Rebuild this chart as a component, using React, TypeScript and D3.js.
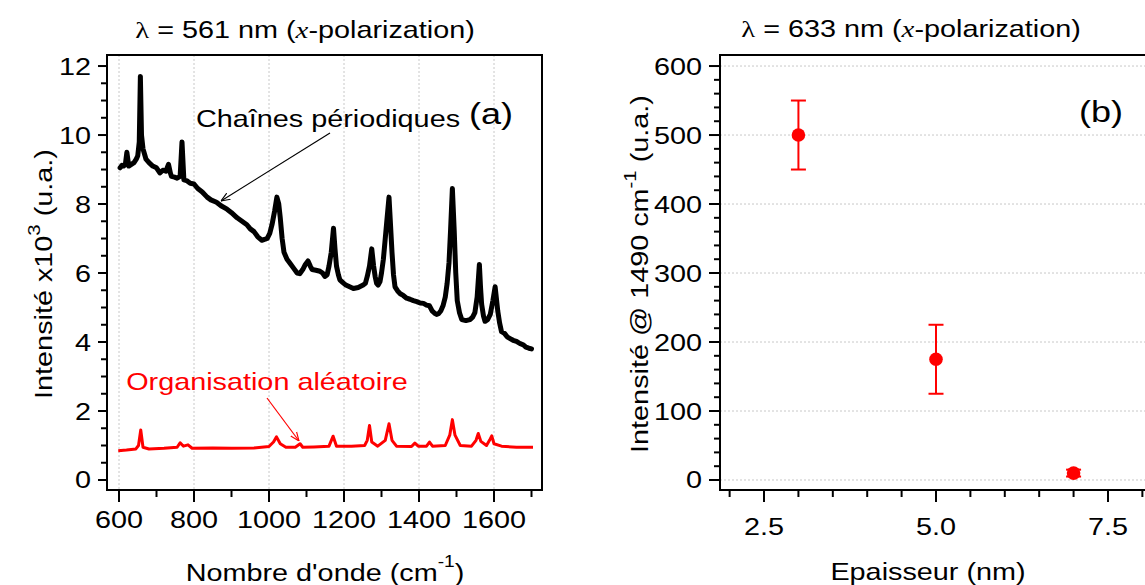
import React from "react";
import * as d3 from "d3";

// ---------- DATA ----------
// Panel (a): Raman spectra (wavenumber cm^-1, intensity x10^3)
const periodicWave = [603, 608, 612, 617, 621, 626, 633, 640, 646, 650, 654, 657, 660, 664, 668, 672, 680, 690, 700, 709, 717, 725, 732, 737, 740, 748, 755, 763, 768, 773, 780, 790, 800, 810, 822, 835, 845, 860, 872, 888, 900, 915, 928, 941, 950, 960, 970, 981, 990, 995, 1002, 1008, 1015, 1021, 1026, 1030, 1035, 1040, 1048, 1055, 1065, 1075, 1082, 1090, 1097, 1104, 1110, 1115, 1125, 1136, 1143, 1149, 1155, 1160, 1166, 1172, 1176, 1180, 1185, 1189, 1197, 1205, 1215, 1225, 1238, 1251, 1257, 1262, 1268, 1274, 1279, 1283, 1287, 1291, 1296, 1300, 1305, 1310, 1315, 1320, 1324, 1328, 1332, 1336, 1343, 1350, 1358, 1367, 1376, 1385, 1394, 1403, 1412, 1420, 1428, 1435, 1441, 1447, 1452, 1458, 1464, 1470, 1475, 1480, 1484, 1489, 1494, 1498, 1502, 1508, 1514, 1525, 1536, 1543, 1549, 1555, 1561, 1564, 1567, 1572, 1576, 1583, 1590, 1597, 1603, 1607, 1610, 1615, 1620, 1628, 1635, 1643, 1651, 1660, 1670, 1678, 1685, 1693, 1700];
const periodicIntensity = [9.05, 9.12, 9.1, 9.15, 9.5, 9.1, 9.15, 9.2, 9.3, 9.4, 9.8, 11.7, 10.0, 9.6, 9.45, 9.3, 9.2, 9.1, 9.05, 8.9, 8.98, 8.95, 9.15, 8.9, 8.8, 8.78, 8.75, 8.8, 9.8, 8.7, 8.68, 8.6, 8.58, 8.45, 8.35, 8.2, 8.12, 8.05, 7.95, 7.85, 7.75, 7.6, 7.5, 7.4, 7.28, 7.2, 7.05, 6.95, 6.98, 7.0, 7.15, 7.4, 7.8, 8.2, 8.0, 7.6, 7.0, 6.6, 6.4, 6.3, 6.15, 6.0, 5.98, 6.1, 6.25, 6.35, 6.2, 6.1, 6.08, 6.05, 6.0, 5.9, 5.95, 6.2, 6.6, 7.3, 6.7, 6.2, 5.95, 5.8, 5.72, 5.65, 5.6, 5.55, 5.58, 5.65, 5.7, 5.9, 6.2, 6.7, 6.2, 5.9, 5.7, 5.65, 5.75, 6.0, 6.4, 7.0, 7.6, 8.2, 7.4, 6.6, 5.95, 5.6, 5.48, 5.4, 5.35, 5.27, 5.24, 5.2, 5.17, 5.13, 5.12, 5.07, 5.05, 4.9, 4.84, 4.8, 4.82, 4.9, 5.05, 5.3, 5.7, 6.3, 7.2, 8.45, 7.2, 6.0, 5.2, 4.85, 4.65, 4.62, 4.65, 4.72, 4.85, 5.3, 6.25, 5.6, 5.1, 4.75, 4.6, 4.65, 4.8, 5.2, 5.6, 5.2, 4.9, 4.55, 4.3, 4.25, 4.15, 4.1, 4.05, 4.02, 3.95, 3.92, 3.85, 3.82, 3.8];

const randomWave = [598, 620, 645, 652, 658, 664, 680, 720, 755, 763, 772, 784, 795, 850, 900, 960, 1000, 1012, 1020, 1030, 1045, 1070, 1083, 1090, 1120, 1160, 1171, 1180, 1220, 1255, 1262, 1268, 1274, 1290, 1310, 1320, 1328, 1340, 1380, 1389, 1398, 1420, 1428, 1436, 1470, 1482, 1489, 1496, 1510, 1540, 1552, 1558, 1565, 1580, 1588, 1594, 1600, 1620, 1660, 1704];
const randomIntensity = [0.85, 0.87, 0.9, 1.0, 1.45, 0.95, 0.9, 0.92, 0.95, 1.08, 0.98, 1.02, 0.92, 0.93, 0.92, 0.93, 0.97, 1.1, 1.25, 1.05, 0.95, 0.95, 1.05, 0.95, 0.96, 0.98, 1.27, 0.98, 0.98, 1.0, 1.15, 1.58, 1.1, 0.98, 1.15, 1.63, 1.15, 0.98, 0.97, 1.07, 0.98, 0.98, 1.1, 0.98, 1.0, 1.3, 1.75, 1.3, 1.0, 0.98, 1.15, 1.35, 1.12, 1.0, 1.15, 1.28, 1.05, 0.98, 0.95, 0.95];

const xTicksA = [600, 800, 1000, 1200, 1400, 1600];
const yTicksA = [0, 2, 4, 6, 8, 10, 12];

// Panel (b): intensity at 1490 cm^-1 vs thickness
const thickness = [3, 5, 7];
const intensity1490 = [500, 175, 10];
const errors1490 = [50, 50, 5];

const xTicksB = [2.5, 5.0, 7.5];
const yTicksB = [0, 100, 200, 300, 400, 500, 600];

// ---------- LAYOUT ----------
const W = 1145;
const H = 585;
const FONT = "'Liberation Sans', Arial, Helvetica, sans-serif";
const SERIF = "'Liberation Serif', 'Times New Roman', serif";
const SX = 1.2;

const xA = d3.scaleLinear().domain([568, 1728]).range([107, 542]);
const yA = d3.scaleLinear().domain([-0.29, 12.32]).range([490, 55]);
const xB = d3.scaleLinear().domain([1.86, 8.14]).range([720, 1152]);
const yB = d3.scaleLinear().domain([-14.5, 616]).range([490, 55]);

function range(a: number, b: number, step: number) {
  const out: number[] = [];
  for (let v = a; v <= b + 1e-9; v += step) out.push(+v.toFixed(6));
  return out;
}

const T = ({ x, y, anchor = "middle", size = 24, fill = "#000", children, rot = false }: any) => (
  <text
    transform={rot ? `translate(${x},${y}) rotate(-90) scale(${SX},1)` : `translate(${x},${y}) scale(${SX},1)`}
    textAnchor={anchor}
    fontSize={size}
    fontFamily={FONT}
    fill={fill}
  >
    {children}
  </text>
);

export default function App() {
  const lineA = d3
    .line<[number, number]>()
    .x((d) => xA(d[0]))
    .y((d) => yA(d[1]));
  const periodic: [number, number][] = periodicWave.map((w, i) => [w, periodicIntensity[i]]);
  const random: [number, number][] = randomWave.map((w, i) => [w, randomIntensity[i]]);

  const minorXA = range(600, 1700, 100);
  const minorYA = range(0, 12, 0.5);
  const minorXB = range(2.0, 8.0, 0.5);
  const minorYB = range(0, 600, 20);

  return (
    <svg width={W} height={H} style={{ position: "absolute", left: 0, top: 0, background: "#fff" }}>
      <defs>
        <marker id="arrK" viewBox="0 0 10 10" refX="10" refY="5" markerWidth="9" markerHeight="9" orient="auto-start-reverse" markerUnits="userSpaceOnUse">
          <path d="M0,1 L10,5 L0,9" fill="none" stroke="#000" strokeWidth="1.3" />
        </marker>
        <marker id="arrR" viewBox="0 0 10 10" refX="10" refY="5" markerWidth="9" markerHeight="9" orient="auto-start-reverse" markerUnits="userSpaceOnUse">
          <path d="M0,1 L10,5 L0,9" fill="none" stroke="#f00" strokeWidth="1.3" />
        </marker>
        <clipPath id="clipA">
          <rect x={107} y={55} width={435} height={435} />
        </clipPath>
      </defs>

      {/* ===== Panel (a) ===== */}
      <T x={305} y={38} size={24}>
        <tspan fontFamily={SERIF}>λ</tspan>
        <tspan> = 561 nm (</tspan>
        <tspan fontFamily={SERIF} fontStyle="italic">x</tspan>
        <tspan>-polarization)</tspan>
      </T>

      {/* grid */}
      {xTicksA.map((t) => (
        <line key={"ga" + t} x1={xA(t)} x2={xA(t)} y1={55} y2={490} stroke="#c8c8c8" strokeWidth={1} strokeDasharray="2,2" />
      ))}

      {/* data */}
      <g clipPath="url(#clipA)">
        <path d={lineA(random) || ""} fill="none" stroke="#ff0000" strokeWidth={3} strokeLinejoin="round" />
        <path d={lineA(periodic) || ""} fill="none" stroke="#000" strokeWidth={5} strokeLinejoin="round" strokeLinecap="round" />
      </g>

      {/* frame */}
      <rect x={107} y={55} width={435} height={435} fill="none" stroke="#000" strokeWidth={2} />

      {/* x ticks */}
      {minorXA.map((t) => (
        <line key={"mxa" + t} x1={xA(t)} x2={xA(t)} y1={490} y2={xTicksA.includes(t) ? 502 : 497} stroke="#000" strokeWidth={2} />
      ))}
      {xTicksA.map((t) => (
        <T key={"lxa" + t} x={xA(t)} y={528}>
          {t}
        </T>
      ))}
      {/* y ticks */}
      {minorYA.map((t) => (
        <line key={"mya" + t} x1={yTicksA.includes(t) ? 98 : 101} x2={107} y1={yA(t)} y2={yA(t)} stroke="#000" strokeWidth={2} />
      ))}
      {yTicksA.map((t) => (
        <T key={"lya" + t} x={91} y={yA(t) + 8.5} anchor="end">
          {t}
        </T>
      ))}

      {/* axis labels */}
      <T x={325} y={581}>
        <tspan>Nombre d'onde (cm</tspan>
        <tspan dy={-14} fontSize={16}>-1</tspan>
        <tspan dy={14}>)</tspan>
      </T>
      <T x={52} y={274} rot>
        <tspan>Intensité x10</tspan>
        <tspan dy={-12} fontSize={17}>3</tspan>
        <tspan dy={12}> (u.a.)</tspan>
      </T>

      {/* annotations */}
      <T x={328} y={127}>Chaînes périodiques</T>
      <line x1={330} y1={133} x2={221} y2={201} stroke="#000" strokeWidth={1.2} markerEnd="url(#arrK)" />
      <T x={491} y={124} size={30}>(a)</T>

      <T x={267} y={390} fill="#ff0000">Organisation aléatoire</T>
      <line x1={267} y1={398} x2={299} y2={441} stroke="#ff0000" strokeWidth={1.2} markerEnd="url(#arrR)" />

      {/* ===== Panel (b) ===== */}
      <T x={911} y={37} size={24}>
        <tspan fontFamily={SERIF}>λ</tspan>
        <tspan> = 633 nm (</tspan>
        <tspan fontFamily={SERIF} fontStyle="italic">x</tspan>
        <tspan>-polarization)</tspan>
      </T>

      {yTicksB.map((t) => (
        <line key={"gb" + t} x1={720} x2={1152} y1={yB(t)} y2={yB(t)} stroke="#c8c8c8" strokeWidth={1} strokeDasharray="2,2" />
      ))}

      {/* frame */}
      <rect x={720} y={55} width={432} height={435} fill="none" stroke="#000" strokeWidth={2} />

      {/* error bars and points */}
      {thickness.map((t, i) => {
        const cx = xB(t);
        const cy = yB(intensity1490[i]);
        const yt = yB(intensity1490[i] + errors1490[i]);
        const yb = yB(intensity1490[i] - errors1490[i]);
        return (
          <g key={"pt" + i}>
            <line x1={cx} x2={cx} y1={yt} y2={yb} stroke="#ff0000" strokeWidth={2} />
            <line x1={cx - 7.5} x2={cx + 7.5} y1={yt} y2={yt} stroke="#ff0000" strokeWidth={2} />
            <line x1={cx - 7.5} x2={cx + 7.5} y1={yb} y2={yb} stroke="#ff0000" strokeWidth={2} />
            <circle cx={cx} cy={cy} r={6.8} fill="#ff0000" />
          </g>
        );
      })}

      {/* x ticks */}
      {minorXB.map((t) => (
        <line key={"mxb" + t} x1={xB(t)} x2={xB(t)} y1={490} y2={xTicksB.includes(t) ? 502 : 497} stroke="#000" strokeWidth={2} />
      ))}
      {xTicksB.map((t) => (
        <T key={"lxb" + t} x={xB(t)} y={535}>
          {t.toFixed(1)}
        </T>
      ))}
      {/* y ticks */}
      {minorYB.map((t) => (
        <line key={"myb" + t} x1={yTicksB.includes(t) ? 709 : 714} x2={720} y1={yB(t)} y2={yB(t)} stroke="#000" strokeWidth={2} />
      ))}
      {yTicksB.map((t) => (
        <T key={"lyb" + t} x={702} y={yB(t) + 8.5} anchor="end">
          {t}
        </T>
      ))}

      <T x={928} y={580}>Epaisseur (nm)</T>
      <T x={648} y={274} rot>
        <tspan>Intensité @ 1490 cm</tspan>
        <tspan dy={-12} fontSize={17}>-1</tspan>
        <tspan dy={12}> (u.a.)</tspan>
      </T>

      <T x={1101} y={122} size={30}>(b)</T>
    </svg>
  );
}
